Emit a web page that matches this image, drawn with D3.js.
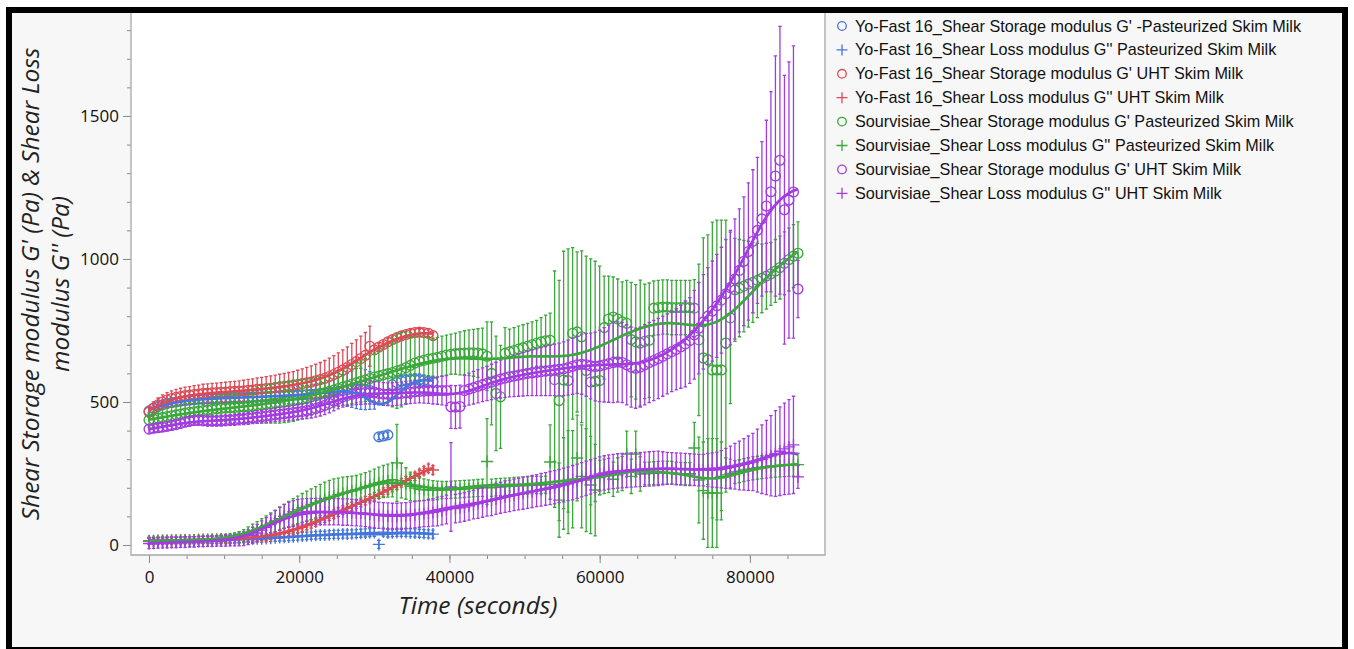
<!DOCTYPE html>
<html><head><meta charset="utf-8">
<script src="https://cdn.jsdelivr.net/npm/d3@7"></script>
<style>body{margin:0;background:#fff}svg{display:block}</style>
</head><body><svg id="c" width="1354" height="649"></svg>
<script>
// ---------- DATA ----------
const timeYF = [0,600,1200,1800,2400,3000,3600,4200,4800,5400,
6000,6600,7200,7800,8400,9000,9600,10200,10800,11400,
12000,12600,13200,13800,14400,15000,15600,16200,16800,17400,
18000,18600,19200,19800,20400,21000,21600,22200,22800,23400,
24000,24600,25200,25800,26400,27000,27600,28200,28800,29400,
30000,30600,31200,31800,32400,33000,33600,34200,34800,35400,
36000,36600,37200,37800];
const timeSV = [0,600,1200,1800,2400,3000,3600,4200,4800,5400,
6000,6600,7200,7800,8400,9000,9600,10200,10800,11400,
12000,12600,13200,13800,14400,15000,15600,16200,16800,17400,
18000,18600,19200,19800,20400,21000,21600,22200,22800,23400,
24000,24600,25200,25800,26400,27000,27600,28200,28800,29400,
30000,30600,31200,31800,32400,33000,33600,34200,34800,35400,
36000,36600,37200,37800,38400,39000,39600,40200,40800,41400,
42000,42600,43200,43800,44400,45000,45600,46200,46800,47400,
48000,48600,49200,49800,50400,51000,51600,52200,52800,53400,
54000,54600,55200,55800,56400,57000,57600,58200,58800,59400,
60000,60600,61200,61800,62400,63000,63600,64200,64800,65400,
66000,66600,67200,67800,68400,69000,69600,70200,70800,71400,
72000,72600,73200,73800,74400,75000,75600,76200,76800,77400,
78000,78600,79200,79800,80400,81000,81600,82200,82800,83400,
84000,84600,85200,85800,86400];

// Yo-Fast 16, G' pasteurized (blue circles)
const yfGpPast = [468,478,485,490,495,498,500,503,505,507,
508,510,510,511,512,512,513,514,514,515,
515,516,516,517,518,518,519,520,520,521,
522,522,523,524,525,526,527,528,530,531,
533,535,537,540,543,545,547,546,543,540,
535,378,381,385,560,568,573,576,578,579,
578,575,572,570];
const yfGpPastErr = [12,12,13,13,14,14,15,15,15,16,
16,16,17,17,18,18,18,19,19,20,
20,21,21,22,22,23,23,24,25,26,
27,28,29,30,31,32,33,34,35,36,
40,44,48,52,58,64,70,72,70,66,
60,10,10,10,20,20,20,20,20,20,
20,20,20,20];
// Yo-Fast 16, G'' pasteurized (blue plus)
const yfGppPast = [15,15,15,16,16,16,16,17,17,17,
17,17,18,18,18,18,19,19,19,20,
20,20,21,21,22,22,23,24,25,26,
27,28,29,30,31,32,33,34,35,35,
36,37,37,38,38,39,40,41,42,43,
44,2,45,42,43,44,44,44,43,42,
41,40,39,38];
const yfGppPastErr = [12,12,12,12,12,12,12,12,12,12,
12,12,12,12,12,12,12,12,12,12,
12,12,12,12,12,12,12,12,12,12,
13,13,13,13,13,13,13,13,13,13,
14,14,14,14,14,14,14,14,14,14,
14,14,14,14,14,14,14,14,14,14,
14,14,14,14];
// Yo-Fast 16, G' UHT (red circles)
const yfGpUHT = [465,478,490,500,507,512,516,519,522,524,
526,528,530,531,532,533,534,535,536,537,
538,539,541,542,544,545,547,548,550,552,
554,556,558,561,564,567,570,574,578,583,
589,596,604,612,621,631,641,652,663,695,
682,692,701,710,718,725,731,736,740,743,
744,743,740,732];
const yfGpUHTErr = [20,22,24,25,26,27,28,29,30,30,
31,31,32,32,33,33,34,34,35,35,
36,37,38,39,40,41,42,43,44,45,
46,47,48,50,52,54,56,58,60,62,
64,66,68,70,72,74,76,78,80,70,
15,12,12,12,12,12,12,12,12,12,
12,12,12,12];
// Yo-Fast 16, G'' UHT (red plus)
const yfGppUHT = [14,14,15,15,15,16,16,16,17,17,
17,18,18,18,19,19,20,20,21,21,
22,23,24,25,26,27,28,31,35,39,
43,47,52,57,62,68,74,80,87,94,
101,108,115,122,129,135,142,149,155,162,
169,177,185,193,201,209,217,225,233,240,
250,260,268,262];
const yfGppUHTErr = [12,12,12,12,12,12,12,12,12,12,
12,12,12,12,12,12,12,12,12,12,
12,12,12,12,12,12,12,12,12,12,
15,15,15,15,15,15,15,15,15,15,
15,15,15,15,15,15,15,15,15,15,
15,15,15,15,15,15,15,15,15,15,
15,15,15,15];

// Sourvisiae, G' pasteurized (green circles)
const svGpPast = [437,440,443,446,449,452,455,458,461,464,
466,468,470,472,474,476,478,479,480,481,
482,483,484,486,488,490,492,494,496,498,
500,502,504,507,510,514,518,522,527,532,
537,542,547,552,557,562,567,572,577,582,
587,591,595,599,603,608,613,620,628,636,
642,646,650,653,656,660,664,667,669,670,
671,672,672,671,668,660,600,530,518,670,
675,680,685,690,695,700,705,710,714,716,
578,505,577,575,740,745,728,610,570,572,
575,760,790,797,790,780,775,718,710,706,
712,716,828,830,832,832,830,830,830,830,
830,828,717,654,648,612,612,612,706,794,
892,898,905,912,918,925,932,940,948,958,
970,985,998,1010,1020];
const svGpPastErr = [25,26,27,28,29,30,31,32,33,34,
35,36,38,40,42,44,46,48,50,52,
54,56,58,60,62,64,66,68,70,72,
72,72,72,70,68,66,64,62,60,60,
60,60,62,64,66,68,70,72,75,80,
85,90,100,110,120,130,130,125,115,100,
90,80,75,70,70,70,70,70,72,75,
78,80,82,85,90,120,180,200,180,90,
80,80,80,80,80,80,80,85,90,95,
380,420,450,460,300,280,300,400,430,420,
400,180,150,140,140,140,150,200,200,220,
200,200,95,95,95,95,95,95,95,95,
95,100,265,420,436,517,524,524,430,300,
180,170,160,150,140,130,120,115,110,110,
110,110,110,110,110];
// Sourvisiae, G'' pasteurized (green plus)
const svGppPast = [14,14,15,15,15,16,16,16,17,17,
17,18,18,18,19,19,20,21,22,24,
27,32,38,45,52,60,68,76,84,92,
100,108,116,123,130,136,142,148,154,160,
166,171,176,181,185,189,193,198,203,208,
213,218,222,225,228,287,225,215,205,199,
195,193,192,191,191,192,192,193,194,195,
196,197,198,199,200,292,200,202,203,204,
205,206,207,208,208,209,210,210,211,290,
212,157,215,220,230,304,240,227,210,192,
236,240,243,230,245,250,318,240,318,248,
250,250,251,252,253,253,252,250,249,248,
248,339,227,190,182,182,182,240,245,250,
255,258,262,265,268,270,272,274,276,277,
278,279,280,281,281];
const svGppPastErr = [10,10,10,10,10,10,10,11,11,12,
12,12,13,13,14,14,15,16,17,18,
20,22,25,28,30,32,34,36,38,40,
42,44,46,48,50,52,54,56,58,60,
60,60,58,56,54,52,50,50,50,50,
52,54,56,58,60,135,60,55,50,45,
40,38,36,34,32,30,30,30,30,30,
30,30,30,30,30,150,30,30,30,30,
30,30,30,30,30,30,30,30,30,130,
80,130,160,180,170,150,180,180,170,160,
60,60,60,60,60,60,80,60,80,60,
40,40,40,40,40,40,40,40,40,40,
40,90,150,170,190,190,190,120,60,50,
40,40,40,40,40,40,40,40,40,40,
40,40,40,40,40];
// Sourvisiae, G' UHT (purple circles)
const svGpUHT = [405,408,410,412,415,418,421,425,430,433,
435,436,435,434,434,434,435,436,437,438,
440,441,443,445,447,449,451,453,455,457,
459,461,463,465,467,470,473,477,482,488,
495,503,511,518,523,527,530,532,533,533,
532,530,528,527,527,528,530,532,534,536,
537,538,539,539,540,540,540,483,482,484,
540,545,550,555,560,565,570,575,580,584,
588,591,594,597,600,602,604,606,608,610,
612,614,616,620,625,630,632,630,626,624,
626,630,634,638,640,638,630,622,618,622,
630,638,645,652,660,668,676,684,693,703,
715,735,758,780,800,818,836,856,878,900,
930,960,992,1026,1062,1100,1140,1185,1235,1290,
1345,1172,1206,1234,895];
const svGpUHTErr = [15,15,15,15,16,16,16,16,17,17,
17,17,18,18,18,18,19,19,19,20,
20,20,21,21,22,22,23,23,24,24,
25,25,26,26,27,28,29,30,31,32,
33,34,35,36,37,38,39,40,40,40,
40,40,40,40,40,40,40,40,40,40,
40,42,44,46,48,50,52,75,75,75,
55,56,57,58,59,60,62,64,66,68,
70,72,74,76,78,80,82,84,86,88,
90,92,94,96,98,100,105,110,115,120,
125,130,135,140,140,140,140,140,140,140,
140,140,140,140,140,140,140,142,145,150,
150,155,160,165,170,175,180,185,190,200,
210,215,225,240,250,255,270,300,350,420,
468,470,483,511,100];
// Sourvisiae, G'' UHT (purple plus)
const svGppUHT = [5,6,7,8,8,9,9,10,10,11,
11,12,12,13,13,14,14,15,16,17,
19,22,27,34,42,52,62,72,82,92,
100,106,110,113,115,116,117,117,117,116,
116,116,116,115,115,114,113,112,110,108,
106,104,102,101,100,100,101,102,104,106,
108,110,112,114,117,120,124,203,127,130,
133,137,141,145,149,153,157,161,165,169,
172,175,178,181,184,187,190,193,196,199,
202,206,210,214,218,223,228,233,238,243,
248,252,255,257,259,260,261,262,263,264,
265,266,267,268,268,268,268,267,266,265,
264,263,262,262,262,262,263,265,268,271,
275,278,282,286,290,295,300,306,312,320,
328,336,343,350,238];
const svGppUHTErr = [18,18,18,18,18,18,18,18,18,18,
18,18,18,18,18,18,18,19,19,20,
22,24,26,28,30,32,34,36,38,40,
42,44,45,46,46,46,46,46,46,46,
46,46,46,46,46,46,46,46,46,46,
46,46,46,46,46,46,46,46,46,46,
46,46,48,48,50,50,50,155,50,50,
50,50,50,52,52,52,54,54,54,55,
55,55,55,56,56,56,56,57,57,58,
58,58,59,59,60,60,60,60,60,60,
60,60,60,60,60,60,60,60,60,60,
60,60,60,60,58,56,55,55,55,55,
55,55,55,55,58,60,62,65,70,75,
80,85,90,95,100,110,120,130,140,150,
155,160,165,170,40];

const legendLabels = [
 "Yo-Fast 16_Shear Storage modulus G' -Pasteurized Skim Milk",
 "Yo-Fast 16_Shear Loss modulus G'' Pasteurized Skim Milk",
 "Yo-Fast 16_Shear Storage modulus G' UHT Skim Milk",
 "Yo-Fast 16_Shear Loss modulus G'' UHT Skim Milk",
 "Sourvisiae_Shear Storage modulus G' Pasteurized Skim Milk",
 "Sourvisiae_Shear Loss modulus G'' Pasteurized Skim Milk",
 "Sourvisiae_Shear Storage modulus G' UHT Skim Milk",
 "Sourvisiae_Shear Loss modulus G'' UHT Skim Milk"];
const xTickLabels = [0,20000,40000,60000,80000];
const yTickLabels = [0,500,1000,1500];

// ---------- STYLE ----------
const COL = {blue:"#4476dc", red:"#dc4a55", green:"#3aa83a", purple:"#a23ce0"};
const series = [
 {label:legendLabels[0], color:COL.blue,   sym:"o", t:timeYF, v:yfGpPast,  e:yfGpPastErr,  h:2000, robust:false},
 {label:legendLabels[1], color:COL.blue,   sym:"+", t:timeYF, v:yfGppPast, e:yfGppPastErr, h:2000, robust:false},
 {label:legendLabels[2], color:COL.red,    sym:"o", t:timeYF, v:yfGpUHT,   e:yfGpUHTErr,   h:2000, robust:false},
 {label:legendLabels[3], color:COL.red,    sym:"+", t:timeYF, v:yfGppUHT,  e:yfGppUHTErr,  h:2000, robust:false},
 {label:legendLabels[4], color:COL.green,  sym:"o", t:timeSV, v:svGpPast,  e:svGpPastErr,  h:4000, robust:false},
 {label:legendLabels[5], color:COL.green,  sym:"+", t:timeSV, v:svGppPast, e:svGppPastErr, h:2800, robust:false},
 {label:legendLabels[6], color:COL.purple, sym:"o", t:timeSV, v:svGpUHT,   e:svGpUHTErr,   h:2500, robust:true},
 {label:legendLabels[7], color:COL.purple, sym:"+", t:timeSV, v:svGppUHT,  e:svGppUHTErr,  h:2500, robust:true}
];

const svg = d3.select("#c");
const P = {l:131, t:13, r:825, b:555};
const x = d3.scaleLinear().domain([-2400, 90000]).range([P.l, P.r]);
const y = d3.scaleLinear().domain([-35, 1860]).range([P.b, P.t]);

// frame
svg.append("rect").attr("width",1354).attr("height",649).attr("fill","#fff");
svg.append("rect").attr("x",6).attr("y",7).attr("width",1342).attr("height",645).attr("fill","#000");
svg.append("rect").attr("x",12).attr("y",13).attr("width",1330).attr("height",634).attr("fill","#f7f7f7");
svg.append("rect").attr("x",P.l).attr("y",P.t).attr("width",P.r-P.l).attr("height",P.b-P.t).attr("fill","#fff");

svg.append("defs").append("clipPath").attr("id","clip")
  .append("rect").attr("x",P.l).attr("y",P.t).attr("width",P.r-P.l).attr("height",P.b-P.t);

// axes
const tickFont = "'Open Sans', sans-serif";
function styleAxis(g){
  g.select(".domain").remove();
  g.selectAll(".tick line").attr("stroke","#8a8a8a");
  g.selectAll(".tick text").attr("fill","#111").style("font-family",tickFont).style("font-size","17px");
}
const gx = svg.append("g").attr("transform",`translate(0,${P.b})`)
  .call(d3.axisBottom(x).tickValues(xTickLabels).tickSize(8).tickPadding(8).tickFormat(d3.format("d")));
styleAxis(gx);
const gxm = svg.append("g").attr("transform",`translate(0,${P.b})`)
  .call(d3.axisBottom(x).tickValues(d3.range(0, 90000, 5000)).tickSize(4).tickFormat(""));
styleAxis(gxm);
const gy = svg.append("g").attr("transform",`translate(${P.l},0)`)
  .call(d3.axisLeft(y).tickValues(yTickLabels).tickSize(8).tickPadding(4).tickFormat(d3.format("d")));
styleAxis(gy);
const gym = svg.append("g").attr("transform",`translate(${P.l},0)`)
  .call(d3.axisLeft(y).tickValues(d3.range(0, 1900, 100)).tickSize(4).tickFormat(""));
styleAxis(gym);
svg.append("path").attr("d",`M${P.l},${P.t}V${P.b}H${P.r}V${P.t}`).attr("fill","none")
  .attr("stroke","#a8a8a8").attr("stroke-width",1.3);

// titles
const titleFont = "'Open Sans', sans-serif";
function title(sel){ return sel.style("font-family",titleFont).style("font-style","italic")
  .style("font-size","24.5px").attr("fill","#222").attr("text-anchor","middle"); }
const yt = svg.append("g").attr("transform",`translate(0,${(P.t+P.b)/2}) rotate(-90)`);
title(yt.append("text").attr("x",0).attr("y",39)).text("Shear Storage modulus G' (Pa) & Shear Loss");
title(yt.append("text").attr("x",0).attr("y",69)).text("modulus G'' (Pa)");
title(svg.append("text").attr("x",(P.l+P.r)/2).attr("y",614)).text("Time (seconds)");

// local-linear smoother (gaussian kernel, optional bisquare robustness)
function smooth(ts, vs, h, robust){
  const pts = ts.map((t,i)=>[t,vs[i]]).filter(d=>d[1]!=null);
  let rw = pts.map(()=>1);
  const fitAt = t => {
    let sw=0,sx=0,sy=0,sxx=0,sxy=0;
    pts.forEach(([ti,vi],k)=>{
      const dx=ti-t, u=dx/h, w=Math.exp(-0.5*u*u)*rw[k];
      if(w<1e-6) return;
      sw+=w; sx+=w*dx; sy+=w*vi; sxx+=w*dx*dx; sxy+=w*dx*vi;
    });
    const den = sw*sxx - sx*sx;
    return den>1e-6 ? (sy*sxx - sx*sxy)/den : sy/sw;
  };
  if(robust){
    for(let it=0; it<2; it++){
      const res = pts.map(([t,v])=>v-fitAt(t));
      rw = res.map(r=>{const u=r/190; return Math.abs(u)<1 ? (1-u*u)*(1-u*u) : 0;});
    }
  }
  const t0 = pts[0][0], t1 = pts[pts.length-1][0], out=[];
  for(let t=t0; t<=t1+1; t+=150) out.push([t, fitAt(t)]);
  return out;
}

const plot = svg.append("g").attr("clip-path","url(#clip)");
series.forEach(s=>{
  const data = s.t.map((t,i)=>({t, v:s.v[i], e:s.e[i]})).filter(d=>d.v!=null);
  const g = plot.append("g");
  g.selectAll("path.eb").data(data).join("path").attr("class","eb")
    .attr("d", d=>{const X=x(d.t), a=y(d.v-d.e), b=y(d.v+d.e);
      return `M${X},${a}V${b}M${X-1.7},${b}h3.4M${X-1.7},${a}h3.4`;})
    .attr("stroke", s.color).attr("stroke-width",1.3).attr("fill","none");
  if(s.sym==="o"){
    g.selectAll("circle").data(data).join("circle")
      .attr("cx",d=>x(d.t)).attr("cy",d=>y(d.v)).attr("r",4.9)
      .attr("fill","none").attr("stroke",s.color).attr("stroke-width",1.35);
  } else {
    g.selectAll("path.mk").data(data).join("path").attr("class","mk")
      .attr("d",d=>{const X=x(d.t),Y=y(d.v);return `M${X-6},${Y}h12M${X},${Y-6}v12`;})
      .attr("stroke",s.color).attr("stroke-width",1.4);
  }
});
const line = d3.line().x(d=>x(d[0])).y(d=>y(d[1]));
series.forEach(s=>{
  plot.append("path").datum(smooth(s.t, s.v, s.h, s.robust)).attr("d",line)
    .attr("fill","none").attr("stroke",s.color).attr("stroke-width",2.7).attr("stroke-linejoin","round");
});

// legend
const lg = svg.append("g");
series.forEach((s,i)=>{
  const cy = 26 + i*23.9;
  if(s.sym==="o") lg.append("circle").attr("cx",842).attr("cy",cy).attr("r",4.3)
      .attr("fill","none").attr("stroke",s.color).attr("stroke-width",1.3);
  else lg.append("path").attr("d",`M836.5,${cy}h11M842,${cy-5.5}v11`).attr("stroke",s.color).attr("stroke-width",1.3);
  lg.append("text").attr("x",855).attr("y",cy+5.5)
    .style("font-family","'Liberation Sans', Arial, sans-serif").style("font-size","16.2px").attr("fill","#111")
    .text(s.label);
});
</script></body></html>
